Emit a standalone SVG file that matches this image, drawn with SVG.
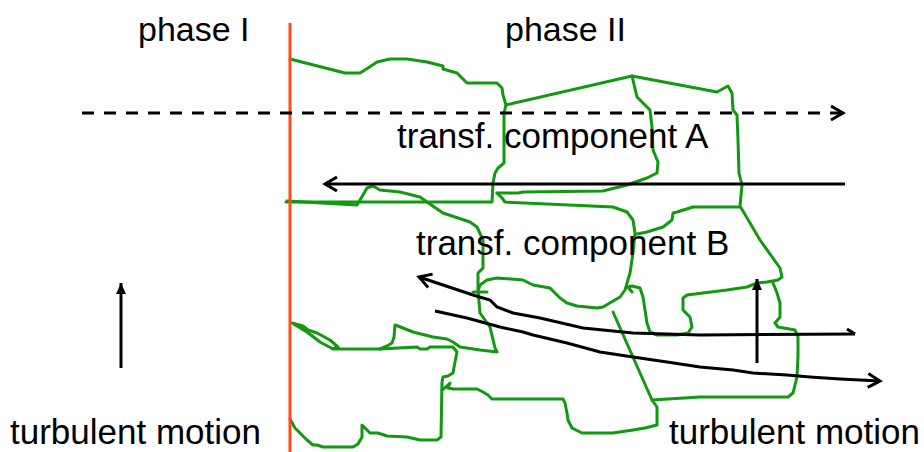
<svg xmlns="http://www.w3.org/2000/svg" width="924" height="452" viewBox="0 0 924 452">
<style>
.t{font-family:"Liberation Sans",Arial,sans-serif;fill:#000}
.g{fill:none;stroke:#119911;stroke-width:3;stroke-linejoin:round;stroke-linecap:round}
.k{fill:none;stroke:#000;stroke-width:3}
</style>
<defs>
<marker id="chev" viewBox="-14 -9 16 18" markerWidth="16" markerHeight="18" refX="0" refY="0" orient="auto" markerUnits="userSpaceOnUse" overflow="visible">
<path d="M-12,-7 L0,0 L-12,7" fill="none" stroke="#000" stroke-width="3"/>
</marker>
<marker id="tri" viewBox="-12 -6 14 12" markerWidth="14" markerHeight="12" refX="0" refY="0" orient="auto" markerUnits="userSpaceOnUse" overflow="visible">
<path d="M-11,-5 L0,0 L-11,5 z" fill="#000"/>
</marker>
</defs>
<rect width="924" height="452" fill="#fff"/>

<g id="grains">
<path class="g" d="M290,59 L345,73 L360,73 L368,68 L377,62 L390,59 L407,59 L427,62 L443,66 L443,69 L457,73 L467,83 L497,83 L502,88 L503,95 L506,105 L504,113 L504,163 L498,168 L495,173 L493,183 L492,202 L423,202 L286,202"/>
<path class="g" d="M287,201 L357,205 L363,195 L367,188 L373,186 L380,190 L400,192 L420,197 L427,202 L443,213 L470,222 L477,227 L483,240 L483,268 L478,273 L478,290 L480,313 L490,327 L495,348 L497,352 L480,350 L460,347 L453,342 L447,339 L433,337 L413,332 L398,326 L395,325 L394,337 L392,343 L387,346 L380,349"/>
<path class="g" d="M292,323 L303,326 L308,330 L317,333 L330,340 L338,347 L333,349 M292,323 L307,332 L320,342 L333,349 L380,349 L417,347 L420,349 L427,349 L430,347 L453,347 L457,352 L455,362 L453,373 L448,376 L443,377 L442,382 L441,437 L437,440 L420,440 L407,437 L387,436 L378,433 L370,433 L365,428 L362,425 L362,437 L358,444 L353,447 L323,447 L317,445 L313,445 L307,440 L300,433 L295,428 L290,419"/>
<path class="g" d="M442,390 L447,386 L450,383 L448,388 L453,389 L477,389 L483,392 L488,395 L492,399 L563,399 L565,403 L567,413 L568,420 L572,428 L582,433 L613,433 L633,430 L645,428 L657,425 L657,407 L652,400 L700,397 L788,397 L793,393 L797,377 L798,357 L798,337 L795,330 L778,327 L775,323 L780,317 L780,303 L777,293 L773,283"/>
<path class="g" d="M613,312 L652,400"/>
<path class="g" d="M497,193 L502,198 L505,202 L613,207 L627,212 L633,220 L635,233 L633,253 L630,273 L625,290 L620,297 L603,307 L597,308 L577,306 L567,303 L560,298 L550,288 L533,285 L523,280 L497,278 L487,280 L480,285 L478,291 M473,292 L487,292"/>
<path class="g" d="M497,193 L518,193 L523,192 L603,191 L627,185 L647,178 L657,173 L658,162 L653,150 L652,127 L650,110 L643,103 L637,97 L632,76"/>
<path class="g" d="M506,105 L632,76 L717,92 L728,86 L732,93 L733,110 L737,115 L738,140 L739,173 L742,185 L740,206 L760,240 L780,268 L782,277 L778,280 L767,282 L757,283 L747,287 L727,290 L687,295 L683,298 L683,310 L690,317 L692,327 L688,333 L677,335 L657,335 L650,332 L647,323 L645,310 L643,297 L640,288 L632,286 L628,287 L632,292"/>
<path class="g" d="M740,207 L693,207 L677,212 L673,213 L672,220 L663,227 L647,232 L637,234"/>
</g>

<g id="interface">
<line x1="290" y1="23" x2="290" y2="452" stroke="#ff4a1c" stroke-width="3"/>
</g>

<g id="connectors">
<line class="k" x1="82" y1="113" x2="843" y2="113" stroke-dasharray="12 10" marker-end="url(#chev)"/>
<line class="k" x1="845" y1="184" x2="325" y2="184" marker-end="url(#chev)"/>
<polyline class="k" points="855,334 700,335 633,333 583,328 540,318 513,313 497,307 490,300 473,295 419,277" marker-end="url(#chev)"/>
<line class="k" x1="847" y1="329" x2="855" y2="334"/>
<polyline class="k" points="435,311 467,318 500,327 523,332 533,335 567,343 600,352 633,357 667,362 700,367 733,370 753,373 787,375 810,377 840,379 880,381" marker-end="url(#chev)"/>
<line class="k" x1="121" y1="368" x2="121" y2="283" marker-end="url(#tri)"/>
<line class="k" x1="757" y1="363" x2="757" y2="279" marker-end="url(#tri)"/>
</g>

<g id="labels">
<text class="t" x="138" y="41" font-size="34">phase I</text>
<text class="t" x="505" y="41" font-size="34">phase II</text>
<text class="t" x="397" y="148" font-size="35">transf. component A</text>
<text class="t" x="416" y="255" font-size="35">transf. component B</text>
<text class="t" x="10" y="444" font-size="35">turbulent motion</text>
<text class="t" x="669" y="444" font-size="35">turbulent motion</text>
</g>
</svg>
